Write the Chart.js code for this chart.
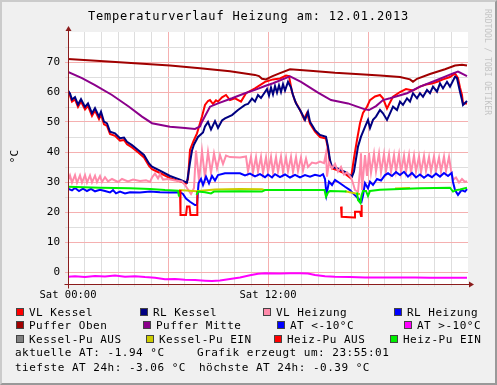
<!DOCTYPE html>
<html>
<head>
<meta charset="utf-8">
<title>Temperaturverlauf Heizung</title>
<script src="https://cdn.jsdelivr.net/npm/chart.js@4.4.1/dist/chart.umd.min.js"></script>
<style>
    html, body { margin: 0; padding: 0; background: #f0f0f0; }
    #graph { position: relative; width: 497px; height: 385px; background: #f0f0f0; overflow: hidden;
             font-family: "DejaVu Sans Mono", monospace; color: #000; }
    #frame { position: absolute; left: 0; top: 0; width: 497px; height: 385px; box-sizing: border-box;
             border-left: 2px solid #cbcbcb; border-top: 2px solid #cbcbcb;
             border-right: 2px solid #999; border-bottom: 2px solid #999; pointer-events: none; }
    canvas { position: absolute; left: 0; top: 0; }
    .txt { position: absolute; white-space: pre; line-height: 1; }
    .leg { font-size: 11px; letter-spacing: 0.5px; }
    .box { position: absolute; width: 6px; height: 6px; border: 1px solid #444; }
</style>
</head>
<body>
<div id="graph">
    <canvas id="chart" width="497" height="385"></canvas>
    <div class="txt" id="title" style="left:0; width:497px; text-align:center; top:10px; font-size:12px; letter-spacing:0.8px;">Temperaturverlauf Heizung am: 12.01.2013</div>
    <div class="txt" style="left:-6px; width:40px; text-align:center; top:151px; font-size:11px; transform:rotate(-90deg);">°C</div>
    <div class="txt" style="left:427px; width:120px; text-align:center; top:58px; font-size:8px; color:#c4c4c4; transform:rotate(90deg);">RRDTOOL / TOBI OETIKER</div>
    <div id="legend"></div>
    <div class="txt leg" style="left:15px; top:347px;">aktuelle AT: -1.94 °C</div>
    <div class="txt leg" style="left:197px; top:347px;">Grafik erzeugt um: 23:55:01</div>
    <div class="txt leg" style="left:15px; top:362px;">tiefste AT 24h: -3.06 °C</div>
    <div class="txt leg" style="left:199px; top:362px;">höchste AT 24h: -0.39 °C</div>
    <div id="frame"></div>
</div>
<script>
// Werte: [Stunde ab 00:00, °C]
var vlKessel = [
    [0, 59.5], [0.12, 58.8], [0.24, 56.8], [0.42, 57.5], [0.6, 55.0], [0.78, 56.8], [1.02, 54.2], [1.2, 55.4],
    [1.44, 52.0], [1.62, 53.8], [1.86, 51.0], [1.98, 52.5], [2.16, 49.2], [2.34, 48.7], [2.52, 46.0], [2.82, 45.4],
    [3.12, 43.8], [3.36, 44.0], [3.54, 42.6], [3.84, 41.5], [4.2, 39.9], [4.56, 38.2], [4.86, 35.4], [5.04, 34.3],
    [5.52, 33.0], [6.12, 31.3], [6.72, 30.2], [7.08, 29.5], [7.2, 31.0], [7.32, 40.7], [7.52, 43.5], [7.74, 46.2],
    [8.04, 51.8], [8.22, 55.7], [8.4, 57.0], [8.52, 57.3], [8.7, 56.0], [8.88, 57.2], [9.0, 56.8], [9.24, 58.2],
    [9.48, 59.0], [9.72, 57.3], [10.02, 57.9], [10.38, 56.8], [10.68, 59.6], [11.22, 61.2], [11.82, 63.4], [12.3, 64.2],
    [12.72, 64.5], [13.08, 65.5], [13.26, 65.3], [13.44, 60.0], [13.62, 57.0], [13.92, 54.0], [14.16, 51.0], [14.34, 53.0],
    [14.52, 49.5], [14.82, 46.8], [15.12, 45.0], [15.48, 44.5], [15.6, 41.0], [15.72, 36.5], [15.84, 34.5], [16.14, 34.0],
    [16.62, 32.8], [16.98, 31.2], [17.16, 38.0], [17.34, 44.0], [17.52, 49.6], [17.7, 53.0], [17.94, 55.1], [18.12, 57.3],
    [18.42, 58.5], [18.72, 59.0], [18.9, 57.9], [19.14, 54.5], [19.32, 56.5], [19.5, 58.4], [19.92, 60.0], [20.28, 61.0],
    [20.7, 60.5], [21.12, 61.8], [21.48, 62.5], [21.84, 62.8], [22.2, 63.5], [22.5, 64.2], [22.92, 65.0], [23.22, 66.2],
    [23.4, 64.6], [23.52, 61.5], [23.64, 59.0], [23.7, 56.2], [23.94, 56.2]
];
var rlKessel = [
    [0, 60.5], [0.12, 59.5], [0.24, 57.5], [0.42, 58.3], [0.6, 55.8], [0.78, 57.6], [1.02, 55.0], [1.2, 56.2],
    [1.44, 52.9], [1.62, 54.6], [1.86, 51.8], [1.98, 53.4], [2.16, 50.1], [2.34, 49.5], [2.52, 46.8], [2.82, 46.2],
    [3.12, 44.6], [3.36, 44.8], [3.54, 43.4], [3.84, 42.3], [4.2, 40.7], [4.56, 39.0], [4.86, 36.2], [5.04, 35.1],
    [5.52, 33.8], [6.12, 32.0], [6.72, 30.8], [7.14, 29.8], [7.32, 36.5], [7.44, 40.5], [7.56, 42.5], [7.8, 45.0],
    [8.1, 46.5], [8.22, 48.5], [8.4, 50.0], [8.58, 47.5], [8.82, 50.3], [9.0, 48.0], [9.24, 50.5], [9.42, 51.2],
    [9.84, 52.3], [10.2, 54.0], [10.62, 55.7], [10.8, 56.0], [11.04, 57.8], [11.22, 56.8], [11.4, 59.0], [11.58, 58.0],
    [11.82, 60.0], [11.94, 61.0], [12.06, 58.8], [12.18, 61.5], [12.3, 59.2], [12.42, 62.0], [12.54, 59.8], [12.66, 62.2],
    [12.78, 60.0], [12.9, 62.6], [13.02, 60.5], [13.2, 63.4], [13.38, 61.5], [13.5, 59.0], [13.68, 56.2], [13.98, 53.4],
    [14.22, 50.7], [14.4, 53.4], [14.52, 50.1], [14.82, 47.3], [15.12, 45.7], [15.48, 45.1], [15.6, 41.8], [15.72, 37.3],
    [15.84, 35.0], [16.14, 34.6], [16.62, 33.4], [17.04, 31.8], [17.16, 33.5], [17.4, 41.8], [17.58, 45.1], [17.82, 48.4],
    [18.0, 50.7], [18.12, 48.0], [18.3, 50.7], [18.48, 51.8], [18.72, 54.0], [18.9, 52.9], [19.14, 50.7], [19.32, 52.9],
    [19.5, 55.1], [19.74, 54.0], [19.92, 56.8], [20.1, 55.7], [20.34, 57.9], [20.52, 56.8], [20.7, 59.6], [20.94, 57.9],
    [21.12, 59.6], [21.3, 58.4], [21.54, 60.7], [21.72, 59.6], [21.9, 61.8], [22.14, 60.1], [22.32, 62.9], [22.5, 61.2],
    [22.74, 63.4], [22.92, 61.8], [23.22, 65.1], [23.34, 64.6], [23.52, 60.1], [23.64, 57.3], [23.7, 55.7], [23.94, 57.0]
];
var vlHeizung = [
    [0, 30.5], [0.12, 32.2], [0.24, 29.8], [0.42, 32.3], [0.54, 29.7], [0.72, 32.2], [0.84, 29.8], [1.02, 32.3],
    [1.14, 29.8], [1.32, 32.2], [1.44, 29.9], [1.62, 32.1], [1.74, 30.0], [1.92, 32.0], [2.04, 30.0], [2.22, 31.6],
    [2.4, 30.2], [2.64, 31.0], [3.0, 30.0], [3.24, 31.0], [3.6, 30.2], [3.9, 30.8], [4.32, 30.3], [4.68, 30.6],
    [4.92, 30.0], [5.04, 31.5], [5.22, 32.8], [5.4, 31.2], [5.52, 32.6], [5.7, 30.8], [6.0, 31.0], [6.42, 30.5],
    [6.84, 30.2], [7.02, 29.0], [7.2, 27.5], [7.38, 26.0], [7.56, 28.0], [7.68, 40.5], [7.86, 30.5], [8.04, 40.3],
    [8.22, 31.5], [8.4, 40.0], [8.58, 33.0], [8.76, 39.5], [8.94, 34.5], [9.12, 39.0], [9.3, 36.0], [9.48, 38.8],
    [9.72, 38.3], [10.32, 38.2], [10.68, 38.5], [10.8, 33.5], [10.98, 38.4], [11.1, 33.2], [11.28, 38.3], [11.4, 33.4],
    [11.58, 38.4], [11.7, 33.0], [11.88, 38.2], [12.0, 33.3], [12.18, 38.4], [12.3, 33.1], [12.48, 38.3], [12.6, 33.4],
    [12.78, 38.5], [12.9, 33.2], [13.08, 38.2], [13.2, 33.5], [13.38, 38.4], [13.5, 33.3], [13.68, 38.3], [13.8, 33.6],
    [13.98, 38.2], [14.1, 33.8], [14.28, 37.8], [14.4, 35.0], [14.64, 36.5], [14.88, 36.2], [15.12, 36.8], [15.36, 36.3],
    [15.48, 39.6], [15.54, 31.8], [15.66, 36.5], [15.84, 34.5], [16.02, 36.0], [16.2, 33.5], [16.38, 35.0], [16.56, 32.5],
    [16.74, 33.2], [16.98, 31.5], [17.1, 29.6], [17.22, 27.3], [17.4, 26.8], [17.52, 34.0], [17.58, 39.6], [17.64, 27.3],
    [17.82, 39.0], [17.94, 32.0], [18.06, 39.6], [18.18, 33.0], [18.36, 39.4], [18.48, 33.5], [18.66, 39.5], [18.78, 33.2],
    [18.96, 39.3], [19.08, 33.5], [19.26, 39.2], [19.38, 33.3], [19.56, 39.0], [19.68, 33.5], [19.86, 39.2], [19.98, 33.2],
    [20.16, 38.8], [20.28, 33.4], [20.46, 39.0], [20.58, 33.0], [20.76, 38.8], [20.88, 33.5], [21.06, 38.5], [21.18, 33.2],
    [21.36, 38.7], [21.48, 33.6], [21.66, 38.3], [21.78, 33.5], [21.96, 38.6], [22.08, 33.8], [22.26, 38.2], [22.38, 33.5],
    [22.56, 38.5], [22.68, 33.6], [22.86, 38.4], [22.98, 34.0], [23.1, 30.7], [23.28, 31.5], [23.46, 29.8], [23.64, 31.0],
    [23.82, 30.0], [23.94, 30.3]
];
var rlHeizung = [
    [0, 27.8], [0.24, 27.2], [0.42, 28.0], [0.66, 27.0], [0.9, 27.8], [1.14, 27.0], [1.38, 27.7], [1.62, 26.9],
    [1.92, 27.4], [2.22, 27.0], [2.52, 26.5], [2.7, 27.3], [2.88, 26.2], [3.12, 26.8], [3.42, 26.2], [3.72, 26.6],
    [4.32, 26.5], [4.92, 26.8], [5.52, 26.6], [6.12, 26.5], [6.72, 26.6], [6.9, 26.0], [7.08, 24.5], [7.32, 23.4],
    [7.62, 22.3], [7.74, 22.3], [7.83, 29.6], [7.98, 31.0], [8.1, 29.0], [8.28, 31.8], [8.46, 29.5], [8.64, 32.0],
    [8.82, 30.5], [9.0, 32.3], [9.42, 32.9], [10.32, 32.9], [10.62, 32.2], [10.92, 32.8], [11.22, 31.9], [11.52, 32.6],
    [11.82, 31.6], [12.0, 32.5], [12.24, 31.5], [12.42, 32.6], [12.72, 31.6], [13.02, 32.5], [13.32, 31.5], [13.62, 32.4],
    [13.92, 31.5], [14.22, 32.3], [14.52, 31.8], [14.82, 32.4], [15.12, 32.0], [15.3, 32.6], [15.42, 31.0], [15.51, 25.8],
    [15.66, 30.1], [15.84, 29.0], [16.02, 30.7], [16.32, 29.6], [16.62, 28.4], [16.92, 27.3], [17.1, 26.2], [17.4, 24.6],
    [17.61, 23.4], [17.7, 25.5], [17.82, 29.6], [18.0, 27.9], [18.12, 30.1], [18.3, 29.0], [18.54, 31.0], [18.78, 30.5],
    [19.02, 32.3], [19.2, 32.9], [19.44, 32.0], [19.68, 33.3], [19.92, 32.3], [20.16, 33.4], [20.4, 31.8], [20.64, 33.0],
    [20.88, 31.5], [21.12, 32.5], [21.36, 31.4], [21.6, 32.4], [21.84, 31.6], [22.08, 32.8], [22.32, 31.8], [22.56, 33.0],
    [22.8, 32.0], [23.02, 33.0], [23.1, 30.0], [23.22, 27.3], [23.4, 25.7], [23.61, 27.3], [23.82, 26.8], [23.94, 27.6]
];
var pufferOben = [
    [0, 71.0], [1.92, 70.3], [4.02, 69.6], [6.12, 68.8], [7.92, 67.9], [9.72, 66.9], [11.22, 65.7], [11.46, 65.3],
    [11.64, 64.4], [11.88, 64.2], [12.24, 65.2], [12.72, 66.3], [13.32, 67.6], [14.52, 67.1], [16.02, 66.4], [17.52, 65.9],
    [18.72, 65.5], [19.92, 65.0], [20.52, 64.2], [20.7, 63.4], [20.94, 64.4], [21.72, 66.0], [22.62, 67.6], [23.22, 68.8],
    [23.64, 69.1], [23.94, 68.8]
];
var pufferMitte = [
    [0, 66.7], [0.84, 64.6], [1.62, 62.3], [2.64, 59.0], [3.66, 55.1], [4.44, 51.8], [5.04, 49.6], [6.12, 48.4],
    [7.02, 48.0], [7.62, 47.7], [7.92, 48.5], [8.04, 50.1], [8.52, 55.1], [9.0, 56.2], [9.84, 57.9], [10.62, 59.6],
    [11.22, 60.7], [11.82, 62.0], [12.3, 62.9], [13.32, 65.2], [13.98, 63.4], [15.0, 59.8], [15.78, 57.3], [16.8, 56.2],
    [17.82, 54.2], [18.06, 54.0], [18.48, 55.3], [18.9, 57.3], [19.32, 57.9], [20.34, 59.6], [21.12, 61.8], [22.14, 64.0],
    [23.1, 66.2], [23.4, 66.8], [23.94, 65.3]
];
var atUeber10 = [
    [0, -1.6], [0.42, -1.4], [1.02, -1.7], [1.62, -1.3], [2.22, -1.5], [2.82, -1.2], [3.42, -1.6], [4.02, -1.4],
    [4.62, -1.7], [5.22, -1.9], [5.82, -2.4], [6.42, -2.3], [7.02, -2.6], [7.62, -2.7], [8.22, -2.9], [8.64, -3.0],
    [9.12, -2.8], [9.72, -2.3], [10.32, -1.8], [10.92, -1.1], [11.4, -0.6], [11.82, -0.4], [12.72, -0.5], [13.32, -0.4],
    [13.92, -0.4], [14.4, -0.5], [14.82, -1.0], [15.42, -1.4], [16.02, -1.6], [16.92, -1.7], [17.82, -1.8], [19.02, -1.8],
    [19.92, -1.8], [20.82, -1.8], [21.72, -1.9], [22.62, -1.9], [23.22, -1.9], [23.94, -1.9]
];
var kesselPuEin = [
    [6.66, 27.3], [7.71, 26.9], [7.8, 27.0], [8.82, 27.5], [10.32, 27.7], [11.64, 27.6], [11.82, 27.3], [12.0, null],
    [16.62, 26.9], [17.34, 26.1], [17.52, 26.0], [18.0, null],
    [19.62, 27.8], [20.52, 28.0]
];
var heizPuAus = [
    [6.72, 27.3], [6.75, 19.0], [7.08, 19.0], [7.14, 21.8], [7.29, 21.8], [7.35, 19.0], [7.74, 19.0], [7.76, 27.0],
    [12.0, null],
    [16.38, 21.8], [16.42, 18.4], [17.18, 18.2], [17.22, 20.1], [17.52, 20.1], [17.58, 18.7], [17.62, 22.3]
];
var heizPuEin = [
    [0, 28.4], [1.92, 28.1], [3.72, 27.9], [4.92, 27.7], [5.82, 27.3], [6.6, 27.1], [6.66, 25.1], [7.0, null],
    [7.71, 25.7], [7.8, 26.8], [8.22, 26.6], [8.58, 26.2], [8.76, 26.8], [10.32, 26.9], [11.64, 26.8], [11.82, 27.3],
    [13.92, 27.3], [15.39, 27.3], [15.48, 25.1], [15.6, 26.5], [15.72, 27.0], [16.71, 26.8], [17.0, null],
    [17.34, 26.5], [17.4, 24.0], [17.55, 23.0], [17.61, 25.5], [17.7, 27.0], [17.88, 27.0], [18.0, 25.3], [18.12, 27.0],
    [18.72, 27.4], [19.92, 27.7], [21.12, 27.9], [22.92, 28.1], [23.1, 26.8], [23.28, 27.3], [23.52, 27.5], [23.94, 28.1]
];

var legendLabels = ['VL Kessel', 'RL Kessel', 'VL Heizung', 'RL Heizung',
    'Puffer Oben', 'Puffer Mitte', 'AT <-10°C', 'AT >-10°C',
    'Kessel-Pu AUS', 'Kessel-Pu EIN', 'Heiz-Pu AUS', 'Heiz-Pu EIN'];
var seriesData = [vlKessel, rlKessel, vlHeizung, rlHeizung,
    pufferOben, pufferMitte, null, atUeber10,
    null, kesselPuEin, heizPuAus, heizPuEin];
var yTicks = [0, 5, 10, 15, 20, 25, 30, 35, 40, 45, 50, 55, 60, 65, 70, 75];
var xTicks = [0, 1, 2, 3, 4, 5, 6, 7, 8, 9, 10, 11, 12, 13, 14, 15, 16, 17, 18, 19, 20, 21, 22, 23, 24];
var xTickLabels = {0: 'Sat 00:00', 12: 'Sat 12:00'};

(function (Chart) {
    "use strict";

    var colors = ['#ff0000', '#000080', '#ff8aaa', '#0000ff',
        '#a00000', '#8b008b', '#0000ff', '#ff00ff',
        '#808080', '#cccc00', '#ff0000', '#00ee00'];
    // x-Position der Farbkaestchen je Legendeneintrag, Zeilenoberkante je Zeile
    var boxLeft = [16, 140, 263, 394, 16, 143, 277, 404, 16, 146, 274, 390];
    var rowTop = [308, 321, 335];
    var minorGrid = '#dedede', majorGrid = '#f5b0b0', axisColor = '#8b1c1c';
    var xFont = {family: '"DejaVu Sans Mono", monospace', size: 10.5};
    var yFont = {family: '"DejaVu Sans Mono", monospace', size: 11};

    var legend = document.getElementById('legend');
    legendLabels.forEach(function (label, i) {
        var box = document.createElement('div'),
            txt = document.createElement('div'),
            top = rowTop[Math.floor(i / 4)];
        box.className = 'box';
        box.style.left = boxLeft[i] + 'px';
        box.style.top = top + 'px';
        box.style.background = colors[i];
        txt.className = 'txt leg';
        txt.style.left = (boxLeft[i] + 13) + 'px';
        txt.style.top = (top - 1) + 'px';
        txt.textContent = label;
        legend.appendChild(box);
        legend.appendChild(txt);
    });

    var datasets = [];
    seriesData.forEach(function (series, i) {
        if (!series) {
            return;
        }
        datasets.push({
            label: legendLabels[i],
            data: series.map(function (p) {
                return {x: p[0], y: p[1]};
            }),
            borderColor: colors[i],
            backgroundColor: colors[i],
            borderWidth: 2,
            pointRadius: 0,
            tension: 0,
            spanGaps: false,
            order: -i
        });
    });

    var rrdCanvas = {
        id: 'rrdCanvas',
        beforeDraw: function (chart) {
            var a = chart.chartArea, ctx = chart.ctx;
            ctx.save();
            ctx.fillStyle = '#ffffff';
            ctx.fillRect(a.left, a.top, a.right - a.left, a.bottom - a.top);
            ctx.restore();
        },
        afterDatasetsDraw: function (chart) {
            var a = chart.chartArea, ctx = chart.ctx,
                x0 = Math.round(a.left) + 0.5, y0 = Math.round(a.bottom) + 0.5;
            ctx.save();
            ctx.strokeStyle = axisColor;
            ctx.fillStyle = axisColor;
            ctx.lineWidth = 1;
            ctx.beginPath();
            ctx.moveTo(x0, y0 + 4);
            ctx.lineTo(x0, a.top - 2);
            ctx.moveTo(x0 - 4, y0);
            ctx.lineTo(a.right + 2, y0);
            ctx.stroke();
            ctx.beginPath();
            ctx.moveTo(x0, a.top - 6);
            ctx.lineTo(x0 - 3, a.top - 1);
            ctx.lineTo(x0 + 3, a.top - 1);
            ctx.closePath();
            ctx.fill();
            ctx.beginPath();
            ctx.moveTo(a.right + 6, y0);
            ctx.lineTo(a.right + 1, y0 - 3);
            ctx.lineTo(a.right + 1, y0 + 3);
            ctx.closePath();
            ctx.fill();
            ctx.restore();
        }
    };

    new Chart(document.getElementById('chart'), {
        type: 'line',
        data: {datasets: datasets},
        plugins: [rrdCanvas],
        options: {
            responsive: false,
            animation: false,
            devicePixelRatio: 1,
            layout: {padding: {top: 32, right: 29, bottom: 81, left: 0}},
            plugins: {legend: {display: false}, tooltip: {enabled: false}, title: {display: false}},
            scales: {
                x: {
                    type: 'linear',
                    min: 0,
                    max: 24,
                    afterBuildTicks: function (scale) {
                        scale.ticks = xTicks.map(function (v) { return {value: v}; });
                    },
                    afterFit: function (scale) { scale.height = 20; },
                    border: {display: false},
                    grid: {
                        color: function (c) {
                            var v = c.tick ? c.tick.value : -1;
                            if (v <= 0 || v >= 24) { return 'rgba(0,0,0,0)'; }
                            return v % 6 === 0 ? majorGrid : minorGrid;
                        },
                        tickLength: 3
                    },
                    ticks: {
                        autoSkip: false,
                        maxRotation: 0,
                        padding: 2,
                        color: '#000',
                        font: xFont,
                        callback: function (v) { return xTickLabels[v] || ''; }
                    }
                },
                y: {
                    min: -4,
                    max: 80,
                    afterBuildTicks: function (scale) {
                        scale.ticks = yTicks.map(function (v) { return {value: v}; });
                    },
                    afterFit: function (scale) { scale.width = 68; },
                    border: {display: false},
                    grid: {
                        color: function (c) {
                            var v = c.tick ? c.tick.value : 1;
                            return v % 10 === 0 ? majorGrid : minorGrid;
                        },
                        tickLength: 3
                    },
                    ticks: {
                        autoSkip: false,
                        padding: 5,
                        color: '#000',
                        font: yFont,
                        callback: function (v) { return v % 10 === 0 ? String(v) : ''; }
                    }
                }
            }
        }
    });
}(Chart));
</script>
</body>
</html>
